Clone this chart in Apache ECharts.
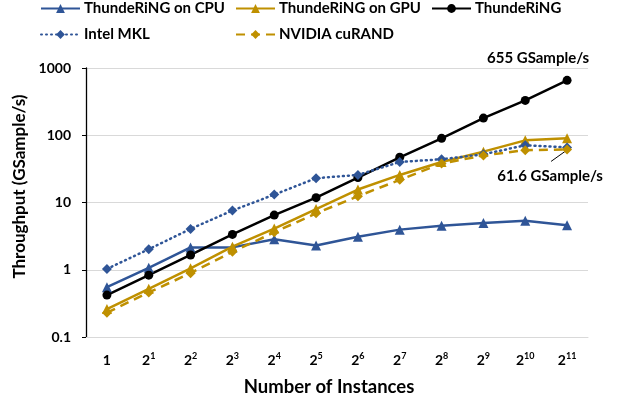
<!DOCTYPE html>
<html>
<head>
<meta charset="utf-8">
<script src="https://cdn.jsdelivr.net/npm/echarts@6/dist/echarts.min.js"></script>
<style>
  html, body { margin: 0; padding: 0; background: #fff; }
  #chart { width: 620px; height: 402px; }
</style>
</head>
<body>
<div id="chart"></div>
<script>
const categories = ['1', '2^1', '2^2', '2^3', '2^4', '2^5', '2^6', '2^7', '2^8', '2^9', '2^10', '2^11']
const yTicks = [0.1, 1, 10, 100, 1000]

const ringCpu = [0.55, 1.07, 2.15, 2.15, 2.85, 2.3, 3.1, 3.95, 4.5, 4.95, 5.35, 4.6]
const ringGpu = [0.26, 0.52, 1.05, 2.2, 4.1, 8.0, 15.6, 25.7, 40, 57, 84, 90]
const ring = [0.42, 0.83, 1.66, 3.35, 6.5, 11.8, 23.5, 47, 90, 180, 330, 655]
const intelMkl = [1.03, 2.02, 4.05, 7.6, 13.1, 23, 25.7, 40, 44, 52, 71, 66]
const curand = [0.23, 0.46, 0.89, 1.85, 3.6, 6.9, 12.4, 21.7, 38, 50, 60, 61.6]

const BLUE = '#2F5597'
const GOLD = '#BF9000'
const FONT = 'Lato'

const chart = echarts.init(document.getElementById('chart'))

function legendAt(name, left, top) {
  return {
    data: [name], left, top, itemWidth: 39, itemHeight: 11, itemGap: 0, padding: 0,
    textStyle: { fontFamily: FONT, fontWeight: 'bold', fontSize: 15, color: '#000', padding: [0, 0, 0, -1] },
  }
}

function lastLabel(values, label) {
  return values.map((v, i) => (i === values.length - 1 ? { value: v, label } : v))
}

chart.setOption({
  animation: false,
  textStyle: { fontFamily: FONT },
  grid: { left: 86, right: 32, top: 68, bottom: 60 },
  legend: [
    legendAt('ThundeRiNG on CPU', 40, 1),
    legendAt('ThundeRiNG on GPU', 235, 1),
    legendAt('ThundeRiNG', 431, 1),
    legendAt('Intel MKL', 40, 27),
    legendAt('NVIDIA cuRAND', 235, 27),
  ],
  xAxis: {
    type: 'category',
    data: categories,
    name: 'Number of Instances',
    nameLocation: 'middle',
    nameGap: 41,
    nameTextStyle: { fontFamily: FONT, fontWeight: 'bold', fontSize: 18.5, color: '#000', padding: [0, 16, 0, 0] },
    axisLine: { lineStyle: { color: '#d9d9d9', width: 1 } },
    axisTick: { show: false },
    axisLabel: {
      interval: 0,
      margin: 15,
      formatter: (v) => {
        const p = v.split('^')
        return p.length === 1 ? `{b|${p[0]}}` : `{b|${p[0]}}{s|${p[1]}}`
      },
      rich: {
        b: { fontFamily: FONT, fontWeight: 'bold', fontSize: 14, color: '#000', lineHeight: 16 },
        s: { fontFamily: FONT, fontWeight: 'bold', fontSize: 9, color: '#000', verticalAlign: 'top', lineHeight: 16, padding: [0, 0, 6, 0] },
      },
    },
  },
  yAxis: {
    type: 'log',
    logBase: 10,
    min: yTicks[0],
    max: yTicks[yTicks.length - 1],
    name: 'Throughput (GSample/s)',
    nameLocation: 'middle',
    nameGap: 49,
    nameTextStyle: { fontFamily: FONT, fontWeight: 'bold', fontSize: 17, color: '#000', padding: [0, 0, 0, 32] },
    axisLine: { show: true, lineStyle: { color: '#000', width: 1.3 } },
    axisTick: { show: true, length: 4, lineStyle: { color: '#000' } },
    axisLabel: {
      margin: 15,
      fontFamily: FONT, fontWeight: 'bold', fontSize: 14, color: '#000',
      formatter: (v) => String(+v.toPrecision(3)),
    },
    splitLine: { lineStyle: { color: '#d9d9d9', width: 1 } },
  },
  series: [
    {
      name: 'ThundeRiNG on CPU', type: 'line', data: ringCpu,
      symbol: 'triangle', symbolSize: 10,
      itemStyle: { color: BLUE }, lineStyle: { color: BLUE, width: 2.5 },
    },
    {
      name: 'ThundeRiNG on GPU', type: 'line', data: ringGpu,
      symbol: 'triangle', symbolSize: 10,
      itemStyle: { color: GOLD }, lineStyle: { color: GOLD, width: 2.5 },
    },
    {
      name: 'ThundeRiNG', type: 'line',
      data: lastLabel(ring, {
        show: true, position: 'top', offset: [-29, -5], formatter: '655 GSample/s',
        fontFamily: FONT, fontWeight: 'bold', fontSize: 15, color: '#000',
      }),
      symbol: 'circle', symbolSize: 9,
      itemStyle: { color: '#000' }, lineStyle: { color: '#000', width: 2.5 },
    },
    {
      name: 'Intel MKL', type: 'line', data: intelMkl,
      symbol: 'diamond', symbolSize: 10,
      itemStyle: { color: BLUE }, lineStyle: { color: BLUE, width: 2.5, type: [1, 4], cap: 'round' },
    },
    {
      name: 'NVIDIA cuRAND', type: 'line',
      data: lastLabel(curand, {
        show: true, position: 'bottom', offset: [-17, 9], formatter: '61.6 GSample/s',
        fontFamily: FONT, fontWeight: 'bold', fontSize: 15, color: '#000',
      }),
      symbol: 'diamond', symbolSize: 10,
      itemStyle: { color: GOLD }, lineStyle: { color: GOLD, width: 2.5, type: [9, 6] },
    },
  ],
})

// leader line for the 61.6 annotation, placed from the axis scale
const last = categories.length - 1
const pt = chart.convertToPixel({ seriesIndex: 4 }, [last, curand[last]])
chart.setOption({
  graphic: [{
    type: 'line',
    shape: { x1: pt[0] - 2, y1: pt[1] + 2, x2: pt[0] - 16, y2: pt[1] + 12 },
    style: { stroke: '#000', lineWidth: 1 },
  }],
})
</script>
</body>
</html>
